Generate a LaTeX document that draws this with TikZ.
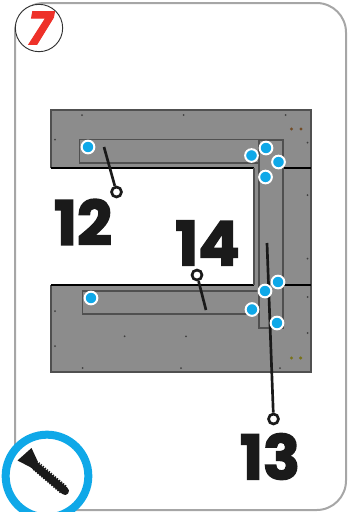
\documentclass[tikz,border=0pt]{standalone}
\usepackage{fontspec}
\newfontfamily\numfont[BoldFeatures={FakeBold=2.6},BoldItalicFeatures={FakeBold=2}]{Poppins}
\definecolor{panelgray}{HTML}{8C8C8C}
\definecolor{edgegray}{HTML}{505050}
\definecolor{dotblue}{HTML}{0FA8E8}
\definecolor{stepred}{HTML}{EE3129}
\definecolor{inkblack}{HTML}{1A1A1A}
\begin{document}
\begin{tikzpicture}[x=0.75pt,y=-0.75pt,
panel/.style = {draw=edgegray,line width=1.2pt},
strip/.style = {fill=panelgray,draw=edgegray,line width=1.2pt},
bluedot/.style = {circle,draw=white,fill=dotblue,line width=1.5pt,inner sep=0pt,minimum size=9.5pt},
screwhole/.style = {circle,fill=#1,inner sep=0pt,minimum size=1.5pt},
ring/.style = {circle,draw=inkblack,fill=white,line width=2pt,inner sep=0pt,minimum size=7.5pt},
leader/.style = {draw=inkblack,line width=2pt},
bignum/.style = {text=inkblack,inner sep=0pt,font=\numfont\bfseries\fontsize{46}{46}\selectfont}]
\useasboundingbox (0,0) rectangle (349,512);
%frame
\draw[gray!70,line width=1.5pt,rounded corners=22pt] (15,60) -- (15,3) -- (346,3) -- (346,510) -- (15,510) -- cycle;
\node (badge) [circle,draw=black!80,fill=white,line width=0.7pt,minimum size=35.5pt,inner sep=0pt] at (39,28) {};
\node (seven) [text=stepred,inner sep=0pt,font=\numfont\bfseries\itshape\fontsize{34}{34}\selectfont] at (40,28) {7};
%panels
\fill[panelgray] (51,110) -- (311,110) -- (311,372) -- (51,372) -- (51,285) -- (254,285) -- (254,168) -- (51,168) -- cycle;
\draw[panel] (51,168) -- (51,110) -- (311,110) -- (311,372) -- (51,372) -- (51,285);
\draw[black,line width=0.9pt] (51,168) -- (254,168) (51,285) -- (254,285);
\draw[edgegray,line width=1.2pt] (254,168) -- (254,285);
\draw[black,line width=0.9pt] (283,168) -- (311,168) (283,285) -- (311,285);
%strips
\draw[strip] (79.5,139.5) rectangle (283,163);
\draw[strip] (82.5,291) rectangle (259,314);
\draw[strip] (259,140) rectangle (283,328);
\fill[panelgray] (80.2,140.2) rectangle (258.2,162.2);
\fill[panelgray] (83.2,291.7) rectangle (258.2,313.2);
%screw holes
\foreach \x/\y in {82/115,183.6/115,285.6/115,55/139.5,307.5/142.5,307.5/195,307.5/258.7,307.7/297,307.7/333,280/368,55/311,55/346,124.6/336.3,186/336.3,82.6/368,181/368}
\node [screwhole=black!75] at (\x,\y) {};
\foreach \x/\y in {291.5/129,301/129}
\node [screwhole=brown!60!black,minimum size=2.6pt] at (\x,\y) {};
\foreach \x/\y in {291.5/358,300.7/358}
\node [screwhole=olive!80!black,minimum size=2.6pt] at (\x,\y) {};
%blue dots
\node (d1) [bluedot] at (88,147) {};
\node (d2) [bluedot] at (251.5,155.5) {};
\node (d3) [bluedot] at (266,148) {};
\node (d4) [bluedot] at (278.5,162) {};
\node (d5) [bluedot] at (265.5,177) {};
\node (d6) [bluedot] at (91,298) {};
\node (d7) [bluedot] at (252,309.5) {};
%leaders
\coordinate (p12) at (104,147);
\coordinate (p13) at (267,243);
\coordinate (p14) at (206,310);
\node (r12) [ring] at (116.5,192) {};
\node (r13) [ring] at (273.5,419) {};
\node (r14) [ring] at (197,275) {};
\foreach \from/\to in {p12/r12,p13/r13,p14/r14}
\draw[leader] (\from) -- (\to);
\node (d8) [bluedot] at (278,282) {};
\node (d9) [bluedot] at (265,291) {};
\node (d10) [bluedot] at (277,323) {};
%labels
\node (n12) [bignum] at (83,222) {12};
\node (n13) [bignum] at (270,456.5) {13};
\node (n14) [bignum] at (207.5,243) {14};
%screw
\node (badgescrew) [circle,draw=dotblue,fill=white,line width=6pt,minimum size=62pt,inner sep=0pt] at (47,476) {};
\fill[inkblack] (17.5,460.5) -- (31.5,448) -- (38,462) -- (32,468) -- cycle;
\draw[inkblack,line width=6pt,line cap=round] (33,464) -- (65,491);
\draw[inkblack,line width=7.5pt,dash pattern=on 1pt off 1pt] (36,466) -- (64,490);
\end{tikzpicture}
\end{document}
